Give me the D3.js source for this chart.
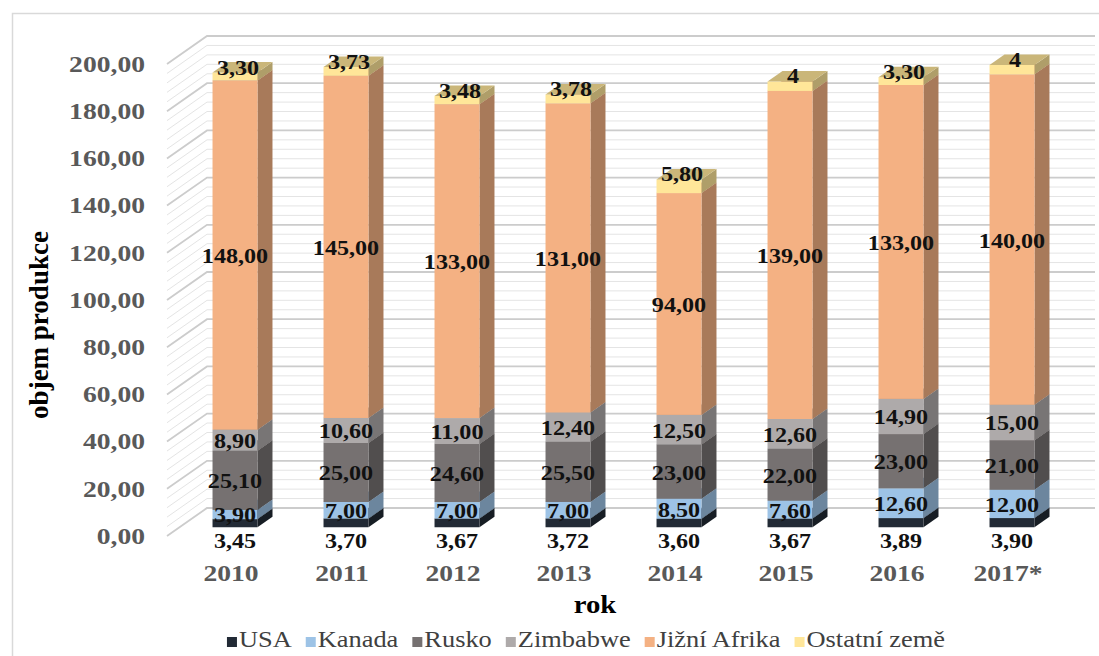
<!DOCTYPE html>
<html>
<head>
<meta charset="utf-8">
<script src="https://cdn.jsdelivr.net/npm/d3@7"></script>
<style>
  html, body { margin: 0; padding: 0; background: #ffffff; }
  svg { display: block; }
  text { font-family: "Liberation Serif", "Times New Roman", serif; }
</style>
</head>
<body>
<svg id="chart" width="1099" height="656"></svg>
<script>
// Production by country and year
const years     = ["2010", "2011", "2012", "2013", "2014", "2015", "2016", "2017*"];
const usa       = [3.45, 3.70, 3.67, 3.72, 3.60, 3.67, 3.89, 3.90];
const kanada    = [3.90, 7.00, 7.00, 7.00, 8.50, 7.60, 12.60, 12.00];
const rusko     = [25.10, 25.00, 24.60, 25.50, 23.00, 22.00, 23.00, 21.00];
const zimbabwe  = [8.90, 10.60, 11.00, 12.40, 12.50, 12.60, 14.90, 15.00];
const jizniAfrika = [148.00, 145.00, 133.00, 131.00, 94.00, 139.00, 133.00, 140.00];
const ostatni   = [3.30, 3.73, 3.48, 3.78, 5.80, 4, 3.30, 4];
const ostatniLabels = ["3,30", "3,73", "3,48", "3,78", "5,80", "4", "3,30", "4"];

const seriesNames  = ["USA", "Kanada", "Rusko", "Zimbabwe", "Jižní Afrika", "Ostatní země"];
const seriesColors = ["#222a35", "#9dc3e6", "#767171", "#aeaaaa", "#f4b183", "#ffe699"];
const yTicks = [0, 20, 40, 60, 80, 100, 120, 140, 160, 180, 200];

const svg = d3.select("#chart");
const SX = 1.15; // horizontal stretch of the lettering

const cz = d3.formatLocale({ decimal: ",", thousands: " ", grouping: [3], currency: ["", ""] });
const f2 = cz.format(".2f");

// Oblique projection: depth vector of the whole plot box
const DEPTH = { x: 40, y: -28 };
const barFront = 0.3125, barDepth = 0.375;

const x = d3.scaleBand().domain(years).range([167, 1055]).paddingInner(0.595).paddingOuter(0.2975);
const y = d3.scaleLinear().domain([0, 200]).range([536, 64]);

function txt(g, px, py, str, o) {
  return g.append("text")
    .attr("transform", `translate(${px},${py}) scale(${o.sx || SX},1)`)
    .attr("text-anchor", o.anchor || "middle")
    .attr("dominant-baseline", o.baseline || "auto")
    .attr("font-size", o.size)
    .attr("font-weight", o.weight || "bold")
    .attr("fill", o.fill || "#000")
    .text(str);
}

// Chart area border
svg.append("rect").attr("x", 12.5).attr("y", 13.5).attr("width", 1100).attr("height", 700)
  .attr("fill", "none").attr("stroke", "#d9d9d9").attr("stroke-width", 1.5);

// Walls: side wall diagonals and back wall gridlines
const grid = svg.append("g");
const gridVals = d3.range(0, 201, 4);
gridVals.forEach(v => {
  const major = v % 20 === 0;
  const yf = y(v);
  grid.append("path")
    .attr("d", `M${167},${yf} L${167 + DEPTH.x},${yf + DEPTH.y} L${1055 + DEPTH.x},${yf + DEPTH.y}`)
    .attr("fill", "none")
    .attr("stroke", major ? "#cccccc" : "#e4e4e4")
    .attr("stroke-width", major ? 1.8 : 1);
});

// Stacked 3D columns
const stackData = years.map((yr, i) => ({
  year: yr,
  values: [usa[i], kanada[i], rusko[i], zimbabwe[i], jizniAfrika[i], ostatni[i]]
}));

const fx = barFront * DEPTH.x, fy = barFront * DEPTH.y;
const dx = barDepth * DEPTH.x, dy = barDepth * DEPTH.y;
const bw = x.bandwidth();

const bars = svg.append("g");
stackData.forEach(d => {
  const x0 = x(d.year) + fx;
  const x1 = x0 + bw;
  let acc = 0;
  d.values.forEach((v, s) => {
    const yb = y(acc) + fy;
    const yt = y(acc + v) + fy;
    acc += v;
    const c = d3.color(seriesColors[s]);
    const side = c.darker(1.05).formatHex();
    const top = c.darker(0.66).formatHex();
    const g = bars.append("g");
    g.append("path")
      .attr("d", `M${x1},${yb} L${x1 + dx},${yb + dy} L${x1 + dx},${yt + dy} L${x1},${yt} Z`)
      .attr("fill", side);
    g.append("rect").attr("x", x0).attr("y", yt).attr("width", bw).attr("height", yb - yt)
      .attr("fill", seriesColors[s]);
    g.append("path")
      .attr("d", `M${x0},${yt} L${x0 + dx},${yt + dy} L${x1 + dx},${yt + dy} L${x1},${yt} Z`)
      .attr("fill", top);
  });
});

// Data labels
const labels = svg.append("g");
stackData.forEach((d, i) => {
  const cx = x(d.year) + fx + bw / 2;
  let acc = 0;
  d.values.forEach((v, s) => {
    const mid = y(acc + v / 2) + fy;
    const topY = y(acc + v) + fy;
    acc += v;
    if (s === 0) {
      txt(labels, cx, 548, f2(v), { size: 21, fill: "#111" });
    } else if (s === 5) {
      txt(labels, cx + 3, topY - 5, ostatniLabels[i], { size: 21, fill: "#111", baseline: "central" });
    } else {
      txt(labels, cx, mid + 1, f2(v), { size: 21, fill: "#111", baseline: "central" });
    }
  });
});

// Y axis tick labels
const yAx = svg.append("g");
yTicks.forEach(v => {
  txt(yAx, 145, y(v), f2(v), { size: 24, anchor: "end", baseline: "central", fill: "#595959" });
});

// X axis category labels
const xAx = svg.append("g");
years.forEach(yr => {
  txt(xAx, x(yr) + fx + bw / 2 - 4, 581, yr, { size: 24, fill: "#595959" });
});

// Axis titles
svg.append("text")
  .attr("transform", "translate(48,325) rotate(-90)")
  .attr("text-anchor", "middle")
  .attr("font-size", 27).attr("font-weight", "bold").attr("fill", "#000")
  .text("objem produkce");
txt(svg, 595, 613, "rok", { size: 25, fill: "#000" });

// Legend
const leg = svg.append("g");
const items = seriesNames.map((n, i) => {
  const g = leg.append("g");
  g.append("rect").attr("x", 0).attr("y", -10).attr("width", 10).attr("height", 10).attr("fill", seriesColors[i]);
  const t = g.append("text").attr("transform", "translate(12,0) scale(1.1,1)")
    .attr("font-size", 24).attr("fill", "#404040").text(n);
  const w = 12 + t.node().getComputedTextLength() * 1.1;
  return { g, w };
});
const gap = 14;
const total = d3.sum(items, d => d.w) + gap * (items.length - 1);
let lx = 586 - total / 2;
items.forEach(it => { it.g.attr("transform", `translate(${lx},647)`); lx += it.w + gap; });
</script>
</body>
</html>
